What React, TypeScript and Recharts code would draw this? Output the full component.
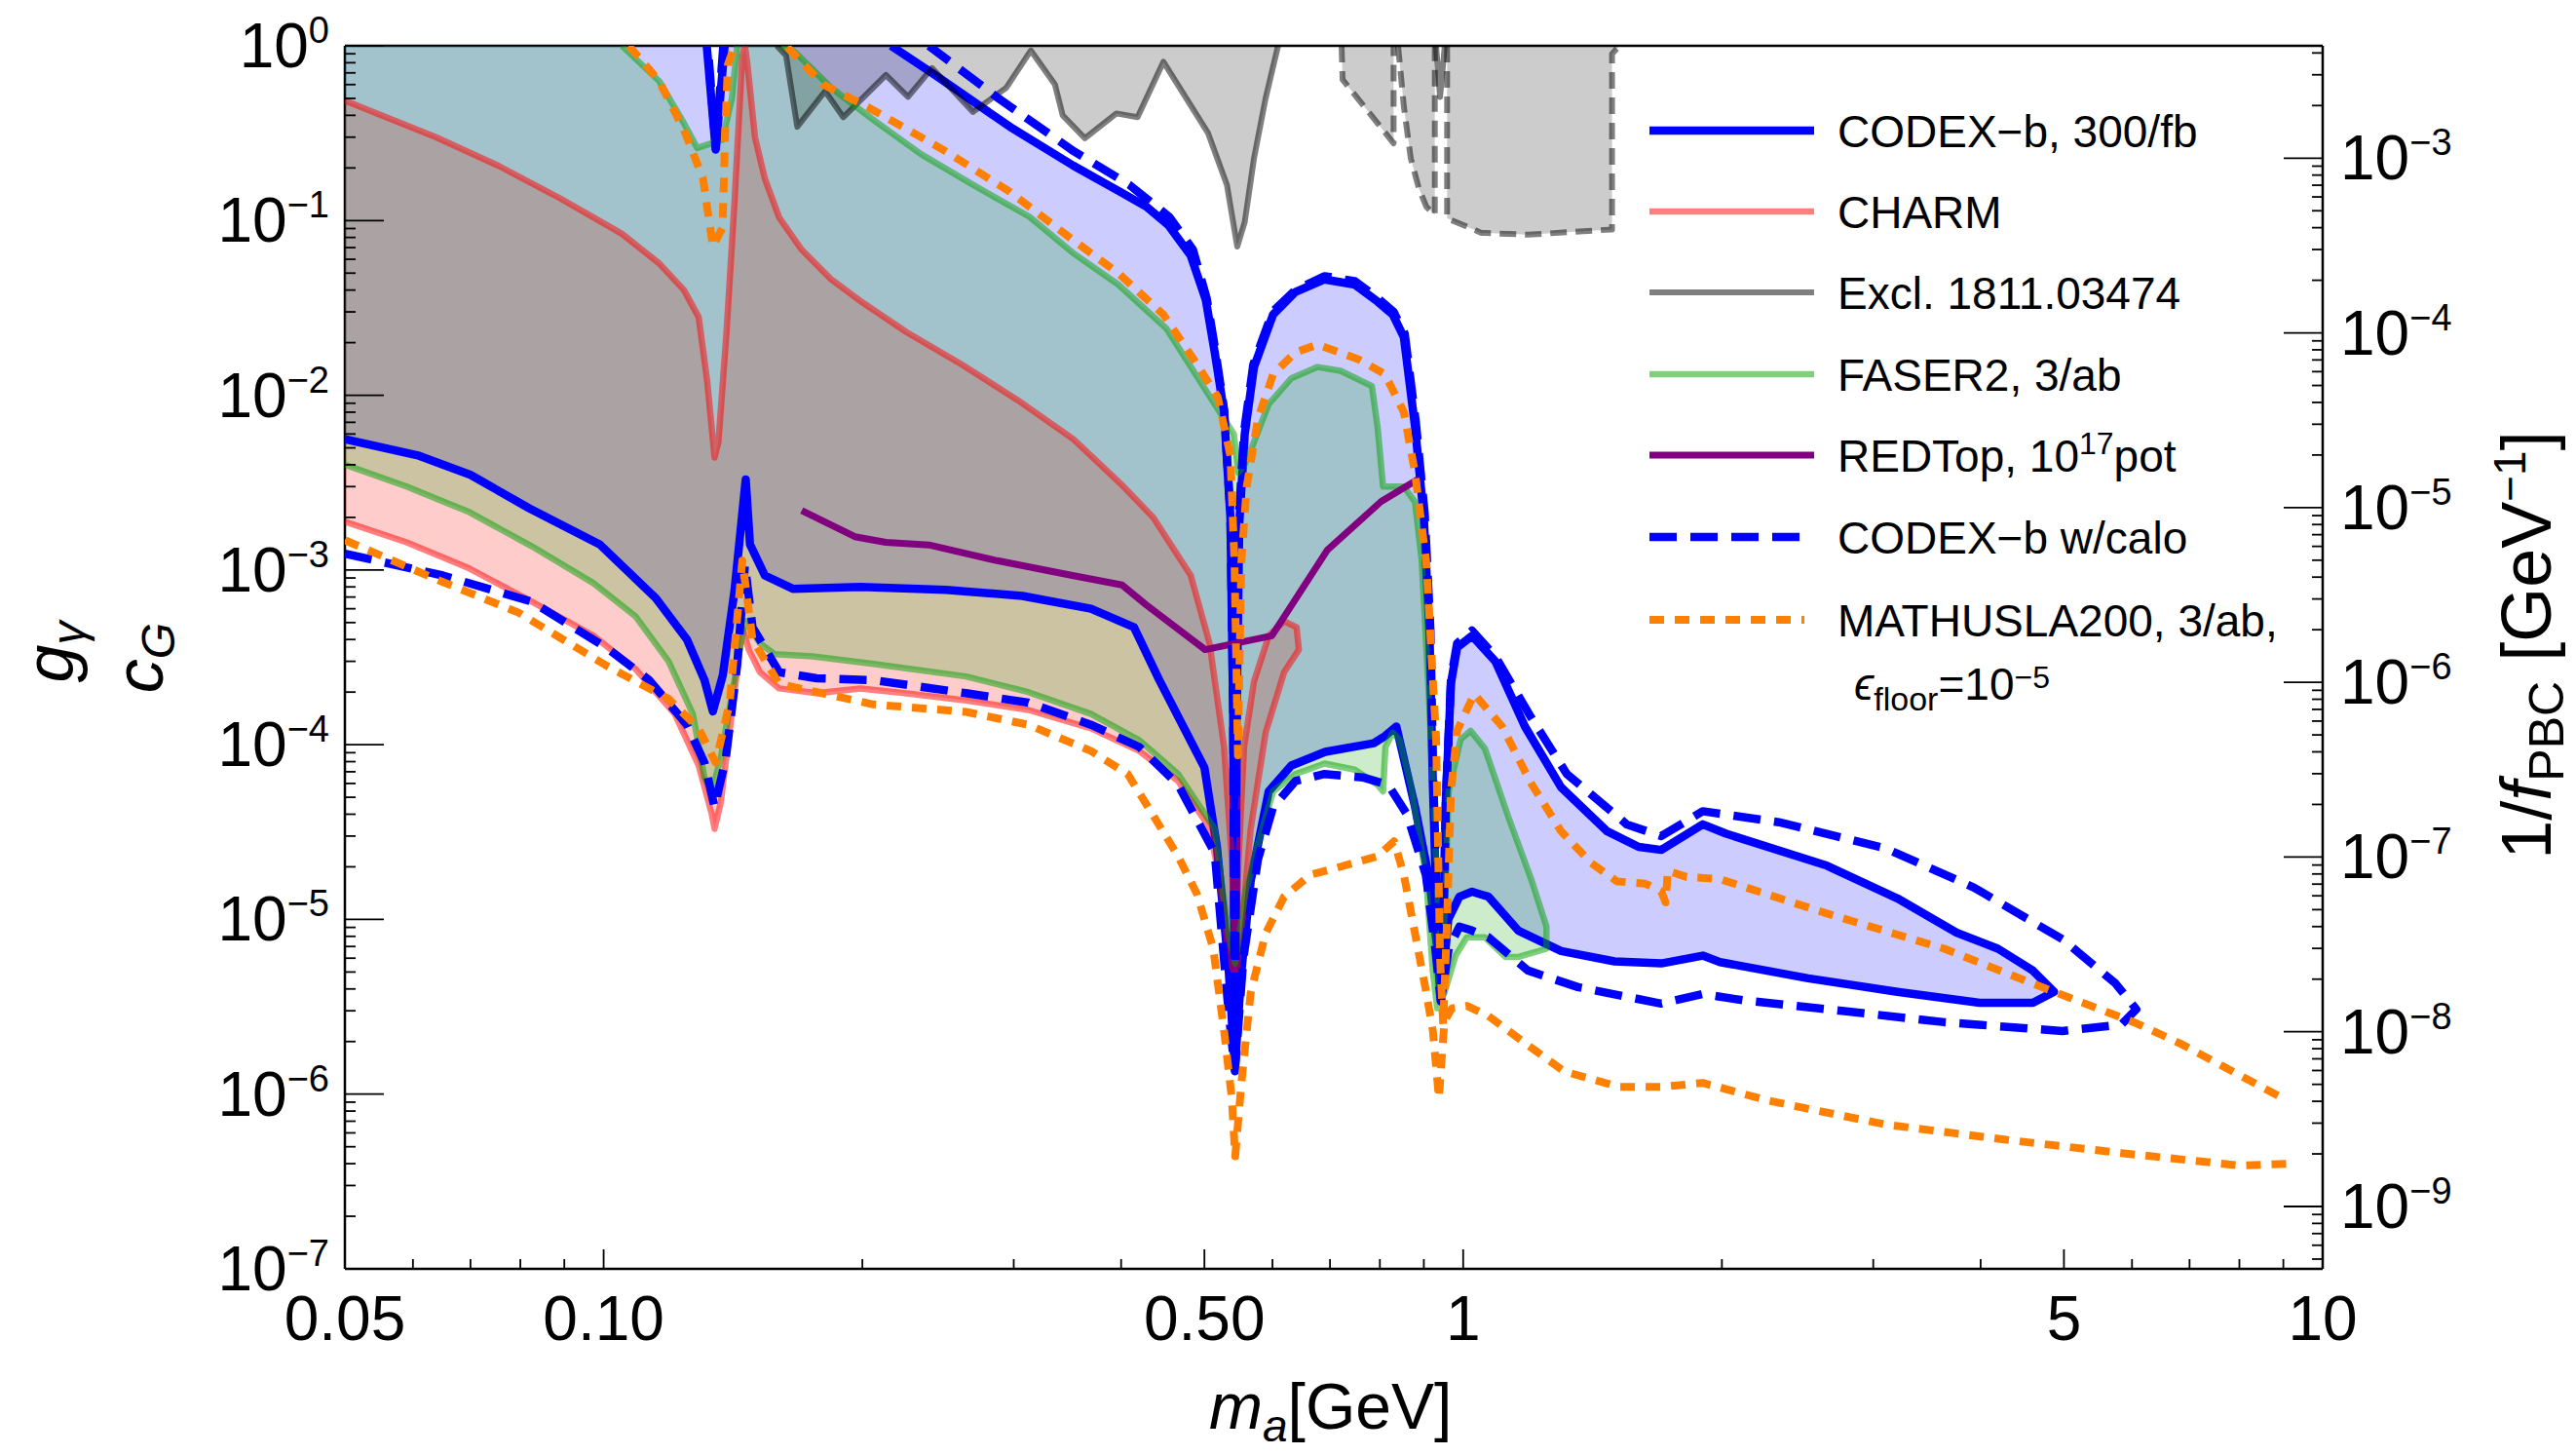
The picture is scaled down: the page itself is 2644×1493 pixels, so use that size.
import { ComposedChart, Scatter, XAxis, YAxis } from 'recharts';

type Pt = [number, number];
type Pix = { x: number; y: number };

const W = 2644;
const H = 1493;
const LEFT = 354;
const TOP = 47;
const RIGHT = 2384;
const BOTTOM = 1302;
const FONT = '"Liberation Sans", Arial, Helvetica, sans-serif';
// axes need a non-zero box to be drawn; they take this much of the margin
const AXIS_BOX = 1;

// 1/f_PBC on the right is the c_G value divided by this
const PBC_RATIO = 227.5;

// axis ticks
const xMajor = [0.05, 0.1, 0.5, 1, 5, 10];
const xMajorLabels = ['0.05', '0.10', '0.50', '1', '5', '10'];
const xMinor = [0.06, 0.07, 0.08, 0.09, 0.2, 0.3, 0.4, 0.6, 0.7, 0.8, 0.9, 2, 3, 4, 6, 7, 8, 9];
const leftDecades = [0, -1, -2, -3, -4, -5, -6, -7];
const rightDecades = [-3, -4, -5, -6, -7, -8, -9];
const minorSteps = [2, 3, 4, 5, 6, 7, 8, 9];

// CODEX-b, 300/fb (solid) : lower edge left to right, then upper edge back
const codexLower: Pt[] = [
  [0.05, 5.6e-3], [0.061, 4.5e-3], [0.07, 3.5e-3], [0.082, 2.25e-3], [0.099, 1.4e-3],
  [0.115, 6.9e-4], [0.125, 4.0e-4], [0.131, 2.35e-4], [0.134, 1.55e-4], [0.1376, 2.5e-4],
  [0.142, 7.6e-4], [0.1463, 3.3e-3], [0.148, 1.4e-3], [0.154, 9.3e-4], [0.166, 7.8e-4],
  [0.199, 8.0e-4], [0.25, 7.7e-4], [0.307, 7.1e-4], [0.369, 6.0e-4], [0.414, 4.7e-4],
  [0.443, 2.35e-4], [0.5, 7.4e-5], [0.517, 2.6e-5], [0.533, 5.6e-6], [0.5425, 1.4e-6],
  [0.552, 5.0e-6], [0.566, 1.66e-5], [0.594, 5.4e-5], [0.631, 7.6e-5], [0.691, 9.1e-5],
  [0.787, 1.02e-4], [0.811, 1.12e-4], [0.836, 1.27e-4], [0.879, 4.4e-5], [0.914, 1.66e-5],
  [0.933, 6.8e-6], [0.942, 3.4e-6], [0.961, 1.0e-5], [0.99, 1.35e-5], [1.024, 1.44e-5],
  [1.07, 1.35e-5], [1.16, 8.6e-6], [1.3, 6.6e-6], [1.5, 5.75e-6], [1.7, 5.6e-6],
  [1.9, 6.2e-6], [1.99, 5.7e-6], [2.52, 4.6e-6], [3.2, 3.85e-6], [3.99, 3.33e-6],
  [4.6, 3.33e-6], [4.87, 3.85e-6],
];
const codexUpper: Pt[] = [
  [4.6, 5.1e-6], [4.19, 6.8e-6], [3.75, 8.4e-6], [3.2, 1.32e-5], [2.65, 2.03e-5],
  [2.02, 3.1e-5], [1.9, 3.5e-5], [1.7, 2.5e-5], [1.6, 2.6e-5], [1.47, 3.2e-5],
  [1.3, 5.7e-5], [1.18, 1.27e-4], [1.09, 3.0e-4], [1.024, 4.2e-4], [0.984, 3.6e-4],
  [0.968, 2.26e-4], [0.955, 5.0e-5], [0.945, 4.0e-6], [0.933, 8.3e-6], [0.922, 5.9e-5],
  [0.914, 4.2e-4], [0.9, 2.0e-3], [0.879, 6.6e-3], [0.853, 2.15e-2], [0.828, 2.9e-2],
  [0.795, 3.44e-2], [0.748, 4.3e-2], [0.69, 4.6e-2], [0.638, 3.9e-2], [0.601, 2.9e-2],
  [0.571, 1.45e-2], [0.557, 6.0e-3], [0.549, 1.85e-3], [0.546, 2.6e-4], [0.5425, 1.5e-6],
  [0.54, 1.6e-4], [0.536, 2.0e-3], [0.527, 8.0e-3], [0.514, 1.76e-2], [0.502, 3.5e-2],
  [0.482, 6.3e-2], [0.454, 9.4e-2], [0.428, 0.12], [0.4, 0.145], [0.352, 0.206],
  [0.297, 0.344], [0.243, 0.68], [0.216, 1.0],
];
const codexNotch: Pt[] = [[0.1383, 1.0], [0.135, 0.255], [0.1318, 1.0]];

// CODEX-b w/calo (dashed outline only)
const caloLoop: Pt[] = [
  [0.05, 1.24e-3], [0.065, 9.3e-4], [0.0824, 6.6e-4], [0.1007, 3.6e-4], [0.113, 2.34e-4],
  [0.125, 1.3e-4], [0.131, 7.9e-5], [0.1346, 4.4e-5], [0.1387, 8.3e-5], [0.143, 2.85e-4],
  [0.146, 1.07e-3], [0.149, 4.7e-4], [0.16, 2.6e-4], [0.177, 2.4e-4], [0.206, 2.34e-4],
  [0.264, 1.97e-4], [0.312, 1.74e-4], [0.369, 1.3e-4], [0.42, 9.7e-5], [0.466, 5.9e-5],
  [0.514, 2.4e-5], [0.533, 3.1e-6], [0.5425, 1.35e-6], [0.555, 6.0e-6], [0.577, 2.2e-5],
  [0.601, 4.4e-5], [0.638, 6.2e-5], [0.69, 6.8e-5], [0.764, 6.5e-5], [0.818, 5.9e-5],
  [0.86, 4.0e-5], [0.905, 1.8e-5], [0.928, 6.8e-6], [0.942, 3.4e-6], [0.962, 6.8e-6],
  [0.99, 9.1e-6], [1.02, 8.7e-6], [1.07, 7.9e-6], [1.19, 5.1e-6], [1.36, 4.1e-6],
  [1.7, 3.3e-6], [1.9, 3.74e-6], [2.12, 3.44e-6], [2.65, 3.06e-6], [3.63, 2.58e-6],
  [4.98, 2.3e-6], [5.83, 2.5e-6], [6.07, 3.06e-6],
  [5.74, 4.3e-6], [4.98, 7.7e-6], [3.93, 1.52e-5], [3.1, 2.55e-5], [2.33, 3.6e-5],
  [1.9, 4.16e-5], [1.7, 3.0e-5], [1.55, 3.5e-5], [1.32, 6.8e-5], [1.2, 1.43e-4],
  [1.09, 3.2e-4], [1.024, 4.5e-4], [0.984, 3.8e-4], [0.968, 2.4e-4], [0.955, 5.0e-5],
  [0.945, 4.0e-6], [0.934, 9.0e-6], [0.923, 6.5e-5], [0.916, 4.5e-4], [0.902, 2.1e-3],
  [0.881, 7.0e-3], [0.855, 2.25e-2], [0.83, 3.0e-2], [0.795, 3.6e-2], [0.748, 4.5e-2],
  [0.69, 4.8e-2], [0.638, 4.0e-2], [0.6, 3.0e-2], [0.57, 1.5e-2], [0.556, 6.2e-3],
  [0.548, 1.9e-3], [0.545, 2.6e-4], [0.5425, 1.4e-6], [0.54, 1.7e-4], [0.536, 2.1e-3],
  [0.527, 8.3e-3], [0.515, 1.8e-2], [0.503, 3.6e-2], [0.485, 6.8e-2], [0.455, 0.105],
  [0.409, 0.16], [0.352, 0.25], [0.288, 0.5], [0.239, 1.0],
];
const caloNotch: Pt[] = [[0.1378, 1.0], [0.135, 0.26], [0.1322, 1.0]];

// CHARM : lower edge, the small lobe right of the eta' dip, then upper edge
const charmLower: Pt[] = [
  [0.05, 1.89e-3], [0.059, 1.44e-3], [0.0698, 1.02e-3], [0.0824, 6.6e-4], [0.0973, 4.2e-4],
  [0.109, 2.7e-4], [0.121, 1.5e-4], [0.129, 7.6e-5], [0.1336, 4.0e-5], [0.1346, 3.3e-5],
  [0.1368, 4.6e-5], [0.1415, 1.74e-4], [0.145, 4.7e-4], [0.1475, 3.5e-4], [0.152, 2.6e-4],
  [0.16, 2.1e-4], [0.177, 1.97e-4], [0.199, 2.1e-4], [0.224, 1.97e-4], [0.264, 1.79e-4],
  [0.312, 1.58e-4], [0.369, 1.24e-4], [0.42, 9.2e-5], [0.466, 6.2e-5], [0.506, 3.4e-5],
  [0.52, 1.8e-5], [0.534, 6.2e-6], [0.5435, 4.6e-6],
];
const charmLobe: Pt[] = [
  [0.552, 8.3e-6], [0.566, 3.3e-5], [0.589, 1.17e-4], [0.619, 2.6e-4], [0.644, 3.5e-4],
  [0.64, 4.7e-4], [0.619, 5.1e-4], [0.594, 4.2e-4], [0.571, 2.3e-4], [0.556, 9.7e-5],
  [0.548, 2.2e-5], [0.545, 8.0e-6],
];
const charmUpper: Pt[] = [
  [0.542, 8.3e-6], [0.538, 2.2e-5], [0.527, 9.7e-5], [0.507, 3.8e-4], [0.482, 9.3e-4],
  [0.436, 2.0e-3], [0.4, 3.1e-3], [0.352, 5.6e-3], [0.303, 9.4e-3], [0.261, 1.5e-2],
  [0.225, 2.3e-2], [0.2, 3.4e-2], [0.184, 4.6e-2], [0.17, 6.8e-2], [0.16, 0.104],
  [0.154, 0.174], [0.15, 0.3], [0.147, 0.78], [0.146, 1.0], [0.145, 0.88],
  [0.142, 0.128], [0.139, 2.3e-2], [0.136, 5.4e-3], [0.1346, 4.4e-3], [0.132, 1.2e-2],
  [0.129, 2.8e-2], [0.124, 4.0e-2], [0.116, 5.7e-2], [0.105, 8.4e-2], [0.089, 0.134],
  [0.0754, 0.206], [0.0638, 0.3], [0.05, 0.485],
];

// FASER2, 3/ab
const faserLower: Pt[] = [
  [0.05, 4.0e-3], [0.059, 3.0e-3], [0.0698, 2.14e-3], [0.0824, 1.37e-3], [0.0973, 8.4e-4],
  [0.109, 5.4e-4], [0.119, 3.0e-4], [0.127, 1.5e-4], [0.131, 6.5e-5], [0.1336, 5.4e-5],
  [0.1368, 8.3e-5], [0.143, 2.85e-4], [0.146, 5.1e-4], [0.152, 3.8e-4], [0.158, 3.3e-4],
  [0.175, 3.2e-4], [0.206, 2.9e-4], [0.264, 2.46e-4], [0.312, 2.0e-4], [0.369, 1.5e-4],
  [0.42, 1.06e-4], [0.466, 6.8e-5], [0.514, 3.3e-5], [0.533, 8.3e-6], [0.543, 5.6e-6],
  [0.557, 1.35e-5], [0.577, 2.7e-5], [0.601, 5.4e-5], [0.638, 6.8e-5], [0.69, 7.8e-5],
  [0.748, 7.2e-5], [0.795, 5.9e-5], [0.807, 5.4e-5], [0.812, 9.7e-5], [0.828, 1.17e-4],
  [0.843, 1.07e-4], [0.869, 5.9e-5], [0.905, 1.8e-5], [0.922, 5.0e-6], [0.933, 3.1e-6],
  [0.951, 3.8e-6], [0.98, 6.2e-6], [1.01, 7.9e-6], [1.06, 7.9e-6], [1.12, 6.1e-6],
  [1.16, 6.1e-6], [1.25, 6.8e-6],
];
const faserUpper: Pt[] = [
  [1.25, 9.1e-6], [1.2, 1.7e-5], [1.13, 3.8e-5], [1.06, 9.5e-5], [1.02, 1.2e-4],
  [0.993, 1.07e-4], [0.962, 5.4e-5], [0.955, 1.7e-5], [0.945, 5.0e-6], [0.935, 1.2e-5],
  [0.914, 1.6e-4], [0.895, 1.12e-3], [0.879, 2.45e-3], [0.853, 3.0e-3], [0.807, 3.0e-3],
  [0.795, 6.6e-3], [0.783, 1.13e-2], [0.72, 1.38e-2], [0.677, 1.45e-2], [0.631, 1.25e-2],
  [0.594, 8.9e-3], [0.571, 5.4e-3], [0.557, 4.0e-3], [0.548, 3.6e-3], [0.541, 6.0e-3],
  [0.5, 1.1e-2], [0.452, 2.4e-2], [0.397, 4.3e-2], [0.352, 6.5e-2], [0.313, 0.105],
  [0.269, 0.16], [0.234, 0.24], [0.207, 0.37], [0.184, 0.575], [0.167, 0.92],
  [0.161, 1.0],
];
const faserNotch: Pt[] = [
  [0.143, 1.0], [0.141, 0.5], [0.1374, 0.29], [0.1285, 0.26], [0.124, 0.36],
  [0.116, 0.63], [0.105, 1.0],
];

// Excl. 1811.03474
const exclSolid: Pt[] = [
  [0.159, 1.0], [0.163, 0.88], [0.168, 0.344], [0.181, 0.55], [0.19, 0.39],
  [0.213, 0.68], [0.226, 0.51], [0.241, 0.745], [0.269, 0.418], [0.294, 0.575],
  [0.314, 0.94], [0.335, 0.6], [0.342, 0.4], [0.363, 0.296], [0.395, 0.41],
  [0.418, 0.39], [0.448, 0.81], [0.505, 0.316], [0.531, 0.16], [0.546, 0.071],
  [0.557, 0.098], [0.571, 0.227], [0.589, 0.5], [0.609, 1.0],
];
const exclDashedA: Pt[] = [[0.722, 1.0], [0.724, 0.64], [0.83, 0.277], [0.83, 1.0]];
const exclDashedB: Pt[] = [
  [0.84, 1.0], [0.853, 0.45], [0.869, 0.227], [0.888, 0.153], [0.906, 0.12],
  [0.927, 0.108], [0.927, 1.0],
];
const exclDashedC: Pt[] = [
  [0.958, 1.0], [0.958, 0.103], [1.05, 0.085], [1.19, 0.083], [1.49, 0.089],
  [1.49, 0.9], [1.52, 1.0],
];
const exclSpike: Pt[] = [[0.93, 1.0], [0.94, 0.51], [0.952, 1.0]];

// REDTop, 10^17 pot
const redtop: Pt[] = [
  [0.17, 2.19e-3], [0.196, 1.55e-3], [0.213, 1.44e-3], [0.239, 1.39e-3], [0.287, 1.13e-3],
  [0.351, 9.3e-4], [0.401, 8.2e-4], [0.428, 6.3e-4], [0.501, 3.5e-4], [0.599, 4.2e-4],
  [0.695, 1.3e-3], [0.803, 2.47e-3], [0.895, 3.4e-3],
];

// MATHUSLA200, 3/ab
const mathuslaLower: Pt[] = [
  [0.05, 1.48e-3], [0.064, 8.8e-4], [0.0796, 5.7e-4], [0.1007, 2.84e-4], [0.119, 1.83e-4],
  [0.129, 1.24e-4], [0.135, 7.9e-5], [0.1402, 1.74e-4], [0.145, 1.13e-3], [0.149, 4.0e-4],
  [0.16, 2.23e-4], [0.177, 2.0e-4], [0.206, 1.7e-4], [0.264, 1.54e-4], [0.312, 1.3e-4],
  [0.369, 9.2e-5], [0.407, 6.8e-5], [0.435, 4.0e-5], [0.466, 2.3e-5], [0.49, 1.4e-5],
  [0.512, 6.8e-6], [0.527, 2.3e-6], [0.538, 9.5e-7], [0.543, 4.4e-7], [0.552, 1.15e-6],
  [0.566, 3.8e-6], [0.589, 8.3e-6], [0.619, 1.35e-5], [0.664, 1.8e-5], [0.719, 2.0e-5],
  [0.795, 2.3e-5], [0.831, 2.8e-5], [0.853, 1.8e-5], [0.879, 8.3e-6], [0.906, 3.8e-6],
  [0.922, 2.3e-6], [0.937, 9.5e-7], [0.951, 2.6e-6], [0.97, 3.1e-6], [1.01, 3.2e-6],
  [1.07, 2.8e-6], [1.19, 1.9e-6], [1.31, 1.35e-6], [1.52, 1.1e-6], [1.7, 1.1e-6],
  [1.9, 1.16e-6], [2.26, 9.2e-7], [3.1, 6.7e-7], [4.26, 5.5e-7], [5.83, 4.6e-7],
  [8.0, 3.9e-7], [9.1, 4.0e-7],
];
const mathuslaUpper: Pt[] = [
  [8.87, 9.8e-7], [6.84, 1.94e-6], [6.03, 2.58e-6], [4.87, 3.85e-6], [3.63, 6.8e-6],
  [2.65, 1.08e-5], [1.99, 1.7e-5], [1.82, 1.75e-5], [1.73, 1.9e-5], [1.72, 1.25e-5],
  [1.7, 1.45e-5], [1.63, 1.6e-5], [1.51, 1.65e-5], [1.41, 2.1e-5], [1.3, 3.2e-5],
  [1.2, 6.0e-5], [1.11, 1.27e-4], [1.03, 1.95e-4], [0.984, 1.2e-4], [0.968, 5.4e-5],
  [0.958, 1.0e-5], [0.948, 2.5e-6], [0.94, 6.0e-6], [0.93, 1.1e-4], [0.906, 1.1e-3],
  [0.879, 3.6e-3], [0.853, 8.0e-3], [0.811, 1.32e-2], [0.757, 1.6e-2], [0.677, 1.95e-2],
  [0.638, 1.76e-2], [0.601, 1.32e-2], [0.577, 7.3e-3], [0.56, 3.0e-3], [0.552, 1.1e-3],
  [0.547, 8.7e-5], [0.542, 1.1e-3], [0.536, 4.5e-3], [0.518, 9.8e-3], [0.486, 1.6e-2],
  [0.448, 2.9e-2], [0.397, 5.0e-2], [0.352, 7.7e-2], [0.297, 0.146], [0.248, 0.255],
  [0.203, 0.446], [0.18, 0.6], [0.163, 1.0],
];
const mathuslaNotch: Pt[] = [
  [0.107, 1.0], [0.116, 0.63], [0.124, 0.33], [0.1305, 0.174], [0.134, 0.071],
  [0.1375, 0.091], [0.1385, 0.33], [0.1395, 0.78], [0.142, 1.0],
];

type LineStyle = { color: string; width: number; dash?: string; opacity?: number };
const sCodex: LineStyle = { color: '#0000ff', width: 8.5 };
const sCharm: LineStyle = { color: '#ff0000', width: 6.5, opacity: 0.5 };
const sExcl: LineStyle = { color: '#000000', width: 6, opacity: 0.5 };
const sExclDash: LineStyle = { color: '#000000', width: 6, opacity: 0.5, dash: '17 9' };
const sFaser: LineStyle = { color: '#00a000', width: 6.5, opacity: 0.5 };
const sRedtop: LineStyle = { color: '#800080', width: 7 };
const sCalo: LineStyle = { color: '#0000ff', width: 8.5, dash: '28 14' };
const sMathusla: LineStyle = { color: '#ff8000', width: 8, dash: '15 11' };

const rows = (pts: Pt[]) => pts.map(([x, y]) => ({ x, y }));
const toPath = (pts: Pix[] | undefined, closed: boolean) =>
  (pts || []).map((p, i) => `${i ? 'L' : 'M'}${p.x.toFixed(1)},${p.y.toFixed(1)}`).join('') +
  (closed ? 'Z' : '');
const noMarker = () => <g />;

function fillLayer(key: string, pts: Pt[], color: string) {
  return (
    <Scatter
      key={key}
      data={rows(pts)}
      xAxisId="m"
      yAxisId="c"
      shape={noMarker}
      isAnimationActive={false}
      line={(p: any) => <path d={toPath(p.points, true)} fill={color} fillOpacity={0.2} stroke="none" />}
    />
  );
}

function strokeLayer(key: string, pts: Pt[], s: LineStyle) {
  return (
    <Scatter
      key={key}
      data={rows(pts)}
      xAxisId="m"
      yAxisId="c"
      shape={noMarker}
      isAnimationActive={false}
      line={(p: any) => (
        <path
          d={toPath(p.points, false)}
          fill="none"
          stroke={s.color}
          strokeOpacity={s.opacity ?? 1}
          strokeWidth={s.width}
          strokeDasharray={s.dash}
          strokeLinejoin="round"
        />
      )}
    />
  );
}

function decadeTicks(exps: number[], lo: number, hi: number) {
  const out: number[] = [];
  for (let e = Math.min(...exps) - 1; e <= Math.max(...exps); e++) {
    out.push(10 ** e);
    minorSteps.forEach((m) => out.push(m * 10 ** e));
  }
  return out.filter((v) => v >= lo * 0.999 && v <= hi * 1.001);
}

const isDecade = (v: number) => Math.abs(Math.log10(v) - Math.round(Math.log10(v))) < 1e-9;

function Power({ x, y, exp, anchor }: { x: number; y: number; exp: number; anchor: 'start' | 'end' }) {
  return (
    <text x={x} y={y} textAnchor={anchor} fontSize={64} fill="#000">
      10
      <tspan dy={-25} fontSize={38}>
        {exp < 0 ? `\u2212${-exp}` : `${exp}`}
      </tspan>
    </text>
  );
}

function BottomTick({ x, payload }: any) {
  const i = xMajor.indexOf(payload.value);
  return (
    <g>
      <line x1={x} x2={x} y1={BOTTOM} y2={BOTTOM - (i >= 0 ? 20 : 10)} stroke="#000" strokeWidth={1.8} />
      {i >= 0 && (
        <text x={x} y={BOTTOM + 73} textAnchor="middle" fontSize={64} fill="#000">
          {xMajorLabels[i]}
        </text>
      )}
    </g>
  );
}

function TopTick({ x, payload }: any) {
  const major = xMajor.includes(payload.value);
  return <line x1={x} x2={x} y1={TOP} y2={TOP + (major ? 20 : 10)} stroke="#000" strokeWidth={1.8} />;
}

function LeftTick({ y, payload }: any) {
  const major = isDecade(payload.value);
  return (
    <g>
      <line x1={LEFT} x2={LEFT + (major ? 40 : 11)} y1={y} y2={y} stroke="#000" strokeWidth={1.8} />
      {major && <Power x={LEFT - 16} y={y + 22} exp={Math.round(Math.log10(payload.value))} anchor="end" />}
    </g>
  );
}

function RightTick({ y, payload }: any) {
  const major = isDecade(payload.value);
  return (
    <g>
      <line x1={RIGHT} x2={RIGHT - (major ? 40 : 11)} y1={y} y2={y} stroke="#000" strokeWidth={1.8} />
      {major && <Power x={RIGHT + 18} y={y + 22} exp={Math.round(Math.log10(payload.value))} anchor="start" />}
    </g>
  );
}

function LegendLine({ y, s, end }: { y: number; s: LineStyle; end: number }) {
  return (
    <line
      x1={1693}
      x2={end}
      y1={y}
      y2={y}
      stroke={s.color}
      strokeOpacity={s.opacity ?? 1}
      strokeWidth={s.width}
      strokeDasharray={s.dash}
    />
  );
}

function Overlay() {
  const tx = 1886;
  return (
    <svg
      width={W}
      height={H}
      style={{ position: 'absolute', left: 0, top: 0, pointerEvents: 'none', fontFamily: FONT }}
    >
      <g fontSize={46} fill="#000">
        <LegendLine y={134} s={sCodex} end={1862} />
        <text x={tx} y={151}>CODEX{'\u2212'}b, 300/fb</text>
        <LegendLine y={217} s={sCharm} end={1862} />
        <text x={tx} y={234}>CHARM</text>
        <LegendLine y={300} s={sExcl} end={1862} />
        <text x={tx} y={317}>Excl. 1811.03474</text>
        <LegendLine y={384} s={sFaser} end={1862} />
        <text x={tx} y={401}>FASER2, 3/ab</text>
        <LegendLine y={467} s={sRedtop} end={1862} />
        <text x={tx} y={484}>
          REDTop, 10<tspan dy={-18} fontSize={32}>17</tspan>
          <tspan dy={18}>pot</tspan>
        </text>
        <LegendLine y={551} s={sCalo} end={1852} />
        <text x={tx} y={568}>CODEX{'\u2212'}b w/calo</text>
        <LegendLine y={636} s={sMathusla} end={1852} />
        <text x={tx} y={653}>MATHUSLA200, 3/ab,</text>
        <text x={1903} y={718}>
          <tspan fontStyle="italic">{'\u03f5'}</tspan>
          <tspan dy={11} fontSize={34}>floor</tspan>
          <tspan dy={-11}>=10</tspan>
          <tspan dy={-12} fontSize={32}>{'\u2212'}5</tspan>
        </text>
      </g>

      <text x={1241} y={1466} fontSize={66} fill="#000">
        <tspan fontStyle="italic">m</tspan>
        <tspan dy={13} fontSize={46} fontStyle="italic">a</tspan>
        <tspan dy={-13}>[GeV]</tspan>
      </text>

      <text x={75} y={669} fontSize={70} fill="#000" textAnchor="middle" transform="rotate(-90 75 669)">
        <tspan fontStyle="italic">g</tspan>
        <tspan dy={12} fontSize={48} fontStyle="italic">{'\u03b3'}</tspan>
      </text>
      <text x={167} y={675} fontSize={70} fill="#000" textAnchor="middle" transform="rotate(-90 167 675)">
        <tspan fontStyle="italic">c</tspan>
        <tspan dy={12} fontSize={48} fontStyle="italic">G</tspan>
      </text>

      <text x={2618} y={662} fontSize={72} fill="#000" textAnchor="middle" transform="rotate(-90 2618 662)">
        1/<tspan fontStyle="italic">f</tspan>
        <tspan dy={13} fontSize={50}>PBC</tspan>
        <tspan dy={-13}> [GeV</tspan>
        <tspan dy={-26} fontSize={46}>{'\u2212'}1</tspan>
        <tspan dy={26}>]</tspan>
      </text>
    </svg>
  );
}

export default function App() {
  const xTicks = [...xMajor, ...xMinor];
  const leftTicks = decadeTicks(leftDecades, 1e-7, 1);
  const rightTicks = decadeTicks(rightDecades, 1e-7 / PBC_RATIO, 1 / PBC_RATIO);

  return (
    <div style={{ position: 'absolute', left: 0, top: 0, width: W, height: H, background: '#fff', fontFamily: FONT }}>
      <ComposedChart
        width={W}
        height={H}
        margin={{
          top: TOP - AXIS_BOX,
          right: W - RIGHT - AXIS_BOX,
          bottom: H - BOTTOM - AXIS_BOX,
          left: LEFT - AXIS_BOX,
        }}
      >
        {fillLayer('f-codex', [...codexLower, ...codexUpper, ...codexNotch, [0.05, 1]], '#0000ff')}
        {fillLayer('f-charm', [...charmLower, ...charmLobe, ...charmUpper], '#ff0000')}
        {fillLayer('f-excl', exclSolid, '#000000')}
        {fillLayer('f-excl-a', exclDashedA, '#000000')}
        {fillLayer('f-excl-b', exclDashedB, '#000000')}
        {fillLayer('f-excl-c', exclDashedC, '#000000')}
        {fillLayer('f-faser', [...faserLower, ...faserUpper, ...faserNotch, [0.05, 1]], '#00a000')}

        {strokeLayer('s-codex', [...codexLower, ...codexUpper], sCodex)}
        {strokeLayer('s-codex-n', codexNotch, sCodex)}
        {strokeLayer('s-charm', [...charmLower, ...charmLobe, ...charmUpper], sCharm)}
        {strokeLayer('s-excl', exclSolid, sExcl)}
        {strokeLayer('s-excl-spike', exclSpike, sExcl)}
        {strokeLayer('s-excl-a', exclDashedA, sExclDash)}
        {strokeLayer('s-excl-b', exclDashedB, sExclDash)}
        {strokeLayer('s-excl-c', exclDashedC, sExclDash)}
        {strokeLayer('s-faser', [...faserLower, ...faserUpper], sFaser)}
        {strokeLayer('s-faser-n', faserNotch, sFaser)}
        {strokeLayer('s-redtop', redtop, sRedtop)}
        {strokeLayer('s-calo', caloLoop, sCalo)}
        {strokeLayer('s-calo-n', caloNotch, sCalo)}
        {strokeLayer('s-math-lo', mathuslaLower, sMathusla)}
        {strokeLayer('s-math-up', mathuslaUpper, sMathusla)}
        {strokeLayer('s-math-n', mathuslaNotch, sMathusla)}

        <XAxis
          xAxisId="m"
          dataKey="x"
          type="number"
          scale="log"
          domain={[0.05, 10]}
          allowDataOverflow
          ticks={xTicks}
          interval={0}
          height={AXIS_BOX}
          tickLine={false}
          axisLine={{ stroke: '#000', strokeWidth: 2.5 }}
          tick={<BottomTick />}
        />
        <XAxis
          xAxisId="top"
          orientation="top"
          type="number"
          scale="log"
          domain={[0.05, 10]}
          allowDataOverflow
          ticks={xTicks}
          interval={0}
          height={AXIS_BOX}
          tickLine={false}
          axisLine={{ stroke: '#000', strokeWidth: 2.5 }}
          tick={<TopTick />}
        />
        <YAxis
          yAxisId="c"
          dataKey="y"
          type="number"
          scale="log"
          domain={[1e-7, 1]}
          allowDataOverflow
          ticks={leftTicks}
          interval={0}
          width={AXIS_BOX}
          tickLine={false}
          axisLine={{ stroke: '#000', strokeWidth: 2.5 }}
          tick={<LeftTick />}
        />
        <YAxis
          yAxisId="pbc"
          orientation="right"
          type="number"
          scale="log"
          domain={[1e-7 / PBC_RATIO, 1 / PBC_RATIO]}
          allowDataOverflow
          ticks={rightTicks}
          interval={0}
          width={AXIS_BOX}
          tickLine={false}
          axisLine={{ stroke: '#000', strokeWidth: 2.5 }}
          tick={<RightTick />}
        />
      </ComposedChart>
      <Overlay />
    </div>
  );
}
